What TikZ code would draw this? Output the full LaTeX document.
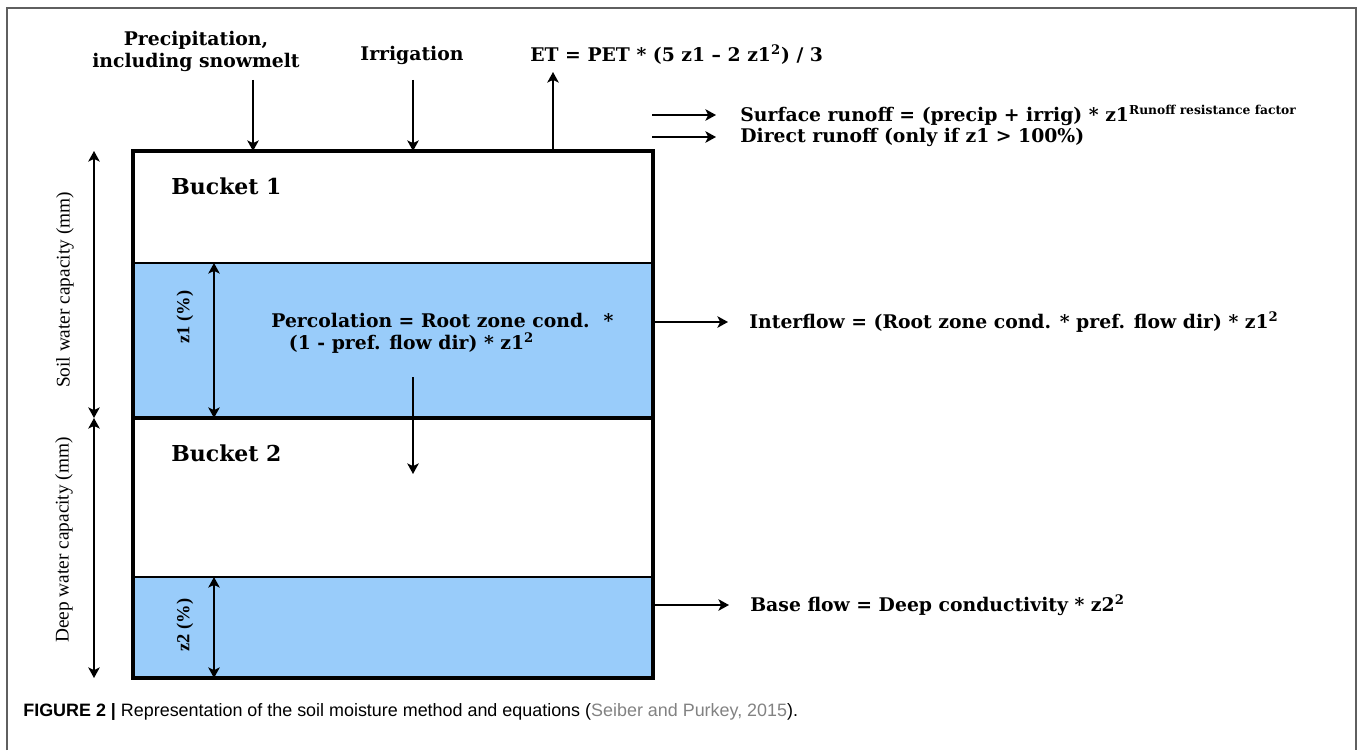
\documentclass[tikz,border=0pt]{standalone}
\usepackage{fontspec}
\setmainfont{Liberation Serif}
\setsansfont{Liberation Sans}
\newfontfamily\diagfont{DejaVu Serif}
\usetikzlibrary{arrows.meta}

\definecolor{waterblue}{RGB}{153,204,250}
\definecolor{framegray}{RGB}{95,95,95}
\definecolor{citegray}{RGB}{130,130,130}

\begin{document}
\begin{tikzpicture}[x=0.02cm,y=-0.02cm,
  >={Stealth[length=6pt,width=6.5pt,inset=1.5pt]},
  flow/.style={line width=1.2pt,->},
  span/.style={line width=1.2pt,<->},
  eqn/.style={anchor=west,inner sep=0pt,font=\diagfont\bfseries\fontsize{10.7}{12.5}\selectfont},
  bucket/.style={anchor=west,inner sep=0pt,font=\diagfont\bfseries\fontsize{12.5}{14}\selectfont},
  capacity/.style={inner sep=0pt,rotate=90,font=\fontsize{11}{12}\selectfont},
  pct/.style={inner sep=0pt,rotate=90,font=\bfseries\fontsize{10.5}{12}\selectfont}]
\useasboundingbox (0,0) rectangle (1358,750);

%% Frame
\draw[framegray, line width=0.8pt] (7,750)--(7,8)--(1356,8)--(1356,750);

%% Buckets
\coordinate (nw) at (133,151);
\coordinate (se) at (653,678);
\fill[waterblue] (133,263) rectangle (653,418);
\fill[waterblue] (133,577) rectangle (653,678);
\draw[line width=1.1pt] (133,263)--(653,263);
\draw[line width=1.1pt] (133,577)--(653,577);
\draw[line width=2.2pt] (133,418)--(653,418);
\draw[line width=2.6pt] (nw) rectangle (se);
\node[bucket] (b1) at (171,186) {Bucket 1};
\node[bucket] (b2) at (171,453) {Bucket 2};

%% Capacities
\coordinate (soiltop) at (94,151);
\coordinate (mid) at (94,418);
\coordinate (deepbot) at (94,678);
\draw[span] (soiltop)--(mid);
\draw[span] (mid)--(deepbot);
\node[capacity] (soilcap) at (65,290) {Soil water capacity (mm)};
\node[capacity] (deepcap) at (64,540) {Deep water capacity (mm)};

%% Fill levels
\coordinate (z1top) at (214,263);
\coordinate (z1bot) at (214,418);
\coordinate (z2top) at (214,577);
\coordinate (z2bot) at (214,678);
\draw[span] (z1top)--(z1bot);
\draw[span] (z2top)--(z2bot);
\node[pct] (z1lab) at (185,317) {z1 (\%)};
\node[pct] (z2lab) at (185,625) {z2 (\%)};

%% Percolation
\node[eqn,align=left] (perc) at (271,333) {Percolation = Root zone cond.\hspace{8pt}*\\\hspace{10pt}(1 - pref. flow dir) * z1\textsuperscript{2}};
\coordinate (percfrom) at (413,377);
\coordinate (percto) at (413,474);
\draw[flow] (percfrom)--(percto);

%% Inputs and ET
\node[eqn,anchor=center,align=center] (precip) at (196,51) {Precipitation,\\including snowmelt};
\node[eqn,anchor=center] (irrig) at (412,55) {Irrigation};
\node[eqn] (et) at (530,55) {ET = PET * (5 z1 – 2 z1\textsuperscript{2}) / 3};
\coordinate (precipin) at (253,80);
\coordinate (irrigin) at (413,80);
\coordinate (etout) at (553,72);
\draw[flow] (precipin)--(precipin |- nw);
\draw[flow] (irrigin)--(irrigin |- nw);
\draw[flow] (etout |- nw)--(etout);

%% Outflows
\coordinate (surf0) at (652,115);
\coordinate (surf1) at (716,115);
\coordinate (dir0) at (652,137);
\coordinate (dir1) at (716,137);
\coordinate (inter0) at (653,322);
\coordinate (inter1) at (728,322);
\coordinate (base0) at (653,605);
\coordinate (base1) at (729,605);
\draw[flow] (surf0)--(surf1);
\draw[flow] (dir0)--(dir1);
\draw[flow] (inter0)--(inter1);
\draw[flow] (base0)--(base1);
\node[eqn] (surf) at (740,115) {Surface runoff = (precip + irrig) * z1\textsuperscript{\fontsize{7}{7}\selectfont Runoff resistance factor}};
\node[eqn] (dir) at (740,137) {Direct runoff (only if z1 > 100\%)};
\node[eqn] (inter) at (749,322) {Interflow = (Root zone cond. * pref. flow dir) * z1\textsuperscript{2}};
\node[eqn] (base) at (750,605) {Base flow = Deep conductivity * z2\textsuperscript{2}};

%% Caption
\node[anchor=west,inner sep=0pt,font=\sffamily\fontsize{10.2}{12}\selectfont] (caption) at (23,712)
  {\textbf{FIGURE 2 |} Representation of the soil moisture method and equations (\textcolor{citegray}{Seiber and Purkey, 2015}).};

\end{tikzpicture}
\end{document}
